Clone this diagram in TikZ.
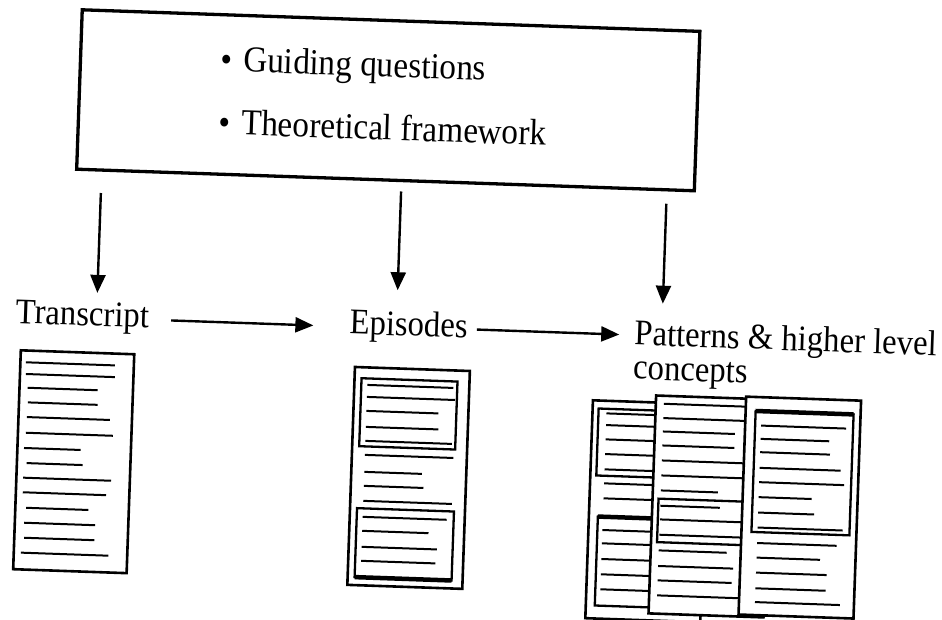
\documentclass[tikz,border=0pt]{standalone}
\usepackage{fontspec}
\setmainfont{Liberation Serif}
\usetikzlibrary{arrows.meta}

\begin{document}
\begin{tikzpicture}[x=1pt,y=-1pt]

  \tikzstyle{frame} = [draw, line width=3.3, minimum width=618, minimum height=159.5, inner sep=0]
  \tikzstyle{item} = [inner sep=0, yscale=1.1, font=\fontsize{33.2}{36}\selectfont]
  \tikzstyle{lbl} = [inner sep=0, yscale=1.1, font=\fontsize{32.7}{31}\selectfont]
  \tikzstyle{arr} = [line width=2.4, -{Triangle[length=18pt,width=15pt]}]
  \tikzstyle{page} = [draw, fill=white, line width=2.6]
  \tikzstyle{inbox} = [draw, line width=2.3]
  \tikzstyle{txt} = [line width=2]

  \useasboundingbox (0,0) rectangle (942,620);

  \begin{scope}[rotate around={-2:(471,310)}, transform shape]

  \node[frame] (frame) at (381,103.3) {};
  \node[item, anchor=base west] (gq) at (212,80) {\textbullet\hspace{0.34em}Guiding questions};
  \node[item, anchor=base west] (tf) at (212,143) {\textbullet\hspace{0.34em}Theoretical framework};

  \node[lbl, anchor=base west] (trans) at (16,339) {Transcript};
  \node[lbl, anchor=base west] (epi) at (350,338) {Episodes};
  \node[lbl, anchor=north west, align=left] (pat) at (635,314) {Patterns \& higher level\\concepts};

  \coordinate (d1) at (97,206);
  \coordinate (d2) at (397,194);
  \coordinate (d3) at (662.5,197);
  \draw[arr, shorten >=9pt] (d1) -- (d1 |- trans.north);
  \draw[arr, shorten >=20pt] (d2) -- (d2 |- epi.north);
  \draw[arr, shorten >=17pt] (d3) -- (d3 |- pat.north);

  \draw[arr, shorten <=22pt, shorten >=36pt] (trans.east) -- (trans.east -| epi.west);
  \draw[arr, shorten <=9pt, shorten >=15pt] (epi.east) -- (epi.east -| pat.west);

  % transcript
  \draw[page] (22.5,366) rectangle (136,585);
  \foreach \yy/\xs/\xe in {377.8/28/117, 389.5/28.4/117.4, 403.2/30.6/100.6, 417.8/31.4/101.1,
      432.5/30.9/113.9, 448.2/30.5/117.5, 463.5/29.1/85.8, 478.5/32.3/88.3, 493.2/29.2/117.2,
      507.8/29.4/112.7, 523.2/33.3/95.6, 538.2/31.8/102.8, 553.2/32.4/102.7, 568.2/29.6/117.2}
    \draw[txt] (\xs,\yy) -- (\xe,\yy);

  % episodes
  \draw[page] (357,371) rectangle (472,589);
  \draw[inbox] (364,382) rectangle (460,450);
  \draw[inbox] (364,512) rectangle (461,581);
  \draw[line width=4.5] (364,581) -- (461,581);
  \foreach \yy/\xe in {388.5/456, 400.5/458, 414.5/442, 430.5/442.5, 444.5/456.5, 458.5/458.6,
      475.5/427.6, 489.5/429.7, 504.5/458.7, 520.5/454, 534.5/436.3, 550.5/445.3, 564.5/444.2}
    \draw[txt] (370,\yy) -- (\xe,\yy);

  % patterns: left page
  \draw[page] (596,396) rectangle (711,614);
  \draw[inbox] (602,404) rectangle (699,471);
  \draw[inbox] (605,512) rectangle (699,601);
  \draw[line width=4.5] (605,512) -- (699,512);
  \foreach \yy in {408.6, 420.3, 434.6, 449.3, 464.6, 478.6, 493.6, 525.3, 538.6, 554.3, 569.6, 584.6}
    \draw[txt] (610,\yy) -- (703,\yy);

  % patterns: middle page
  \draw[page] (659,389) rectangle (774,607);
  \draw[inbox] (665,492) rectangle (763,535.5);
  \foreach \yy/\xe in {397/758, 411.3/758, 424.7/739, 438.7/739, 453.7/758, 468.7/753, 483.7/724,
      499/726.5, 512.7/753, 528/753, 543.7/735, 559.3/742, 573.7/741, 588.7/753}
    \draw[txt] (667,\yy) -- (\xe,\yy);

  % patterns: right page
  \draw[page] (749,387) rectangle (864,605);
  \draw[inbox] (759,401) rectangle (857,522);
  \draw[line width=4.5] (759,401) -- (857,401);
  \foreach \yy/\xe in {415.4/850, 428.7/833.6, 442/834.8, 457.7/846, 472/850, 487/818, 502.4/821,
      517.4/850, 532.9/844.6, 547.5/828.5, 562.5/835.6, 578.2/835.2, 592/850}
    \draw[txt] (765,\yy) -- (\xe,\yy);

  \end{scope}

\end{tikzpicture}
\end{document}
